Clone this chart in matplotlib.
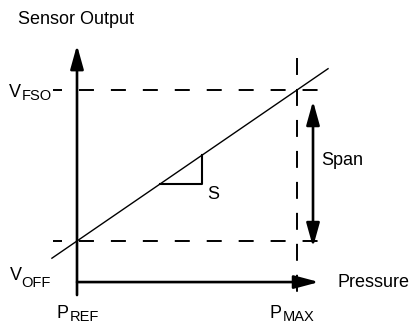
import matplotlib
matplotlib.use("Agg")
import matplotlib.pyplot as plt
from matplotlib.patches import FancyArrowPatch

plt.rcParams['font.family'] = ['Liberation Sans Narrow', 'Liberation Sans', 'DejaVu Sans']
plt.rcParams['lines.scale_dashes'] = False

# normalised diagram values (pressure: P_REF=0, P_MAX=1; output: V_OFF=0, V_FSO=1)
p_ref, p_max = 0.0, 1.0
v_off, v_fso = 0.0, 1.0
line_x = [-0.114, 1.141]          # transfer line extent, output = pressure
slope_tri_x = [0.377, 0.568]      # slope triangle
span_y = [-0.04, 0.927]           # span arrow ends
axis_x_end = 1.10
axis_y_end = 1.297

# labels: (main letter, subscript, x main, x sub, baseline main, baseline sub)
sub_labels = [
    ('V', 'FSO', -0.309, -0.252, 0.954, 0.934),
    ('V', 'OFF', -0.305, -0.252, -0.258, -0.305),
    ('P', 'REF', -0.091, -0.034, -0.510, -0.530),
    ('P', 'MAX', 0.877, 0.934, -0.510, -0.530),
]

fig = plt.figure(figsize=(4.09, 3.26), dpi=100)
ax = fig.add_axes([0, 0, 1, 1])
ax.set_xlim(-0.35, 1.509)
ax.set_ylim(-0.563, 1.596)
ax.axis('off')

k = 'black'
hdash = (6 * 0.72, (10.8, 12.2))
vdash = (0, (12.2, 10.1))

# guide lines
ax.plot([-0.109, 1.109], [v_fso, v_fso], color=k, lw=1.4, ls=hdash)
ax.plot([-0.109, 1.114], [v_off, v_off], color=k, lw=1.4, ls=hdash)
ax.plot([p_max, p_max], [1.212, -0.358], color=k, lw=1.4, ls=vdash)

# transfer line
ax.plot(line_x, line_x, color=k, lw=1.0)

# slope triangle
ax.plot([slope_tri_x[0], slope_tri_x[1], slope_tri_x[1]],
        [slope_tri_x[0], slope_tri_x[0], slope_tri_x[1]], color=k, lw=1.5)

# axes arrows
ax.add_patch(FancyArrowPatch((p_ref, -0.358), (p_ref, axis_y_end),
                             arrowstyle='-|>,head_length=14.4,head_width=4.0',
                             color=k, lw=1.9, shrinkA=0, shrinkB=0))
ax.add_patch(FancyArrowPatch((p_ref, -0.272), (axis_x_end, -0.272),
                             arrowstyle='-|>,head_length=15,head_width=4.0',
                             color=k, lw=1.9, shrinkA=0, shrinkB=0))

# span arrow
ax.add_patch(FancyArrowPatch((1.0727, span_y[0]), (1.0727, span_y[1]),
                             arrowstyle='<|-|>,head_length=14.4,head_width=4.0',
                             color=k, lw=1.9, shrinkA=0, shrinkB=0))

fs = 13
ax.text(-0.005, 1.464, 'Sensor Output', ha='center', va='center', fontsize=fs)
for main, sub, xm, xs, ym, ys in sub_labels:
    ax.text(xm, ym, main, ha='left', va='baseline', fontsize=fs)
    ax.text(xs, ys, sub, ha='left', va='baseline', fontsize=10.5)
ax.text(1.186, -0.278, 'Pressure', ha='left', va='center', fontsize=fs)
ax.text(1.109, 0.536, 'Span', ha='left', va='center', fontsize=fs)
ax.text(0.591, 0.305, 'S', ha='left', va='center', fontsize=fs)

fig.savefig('out.png', dpi=100)
